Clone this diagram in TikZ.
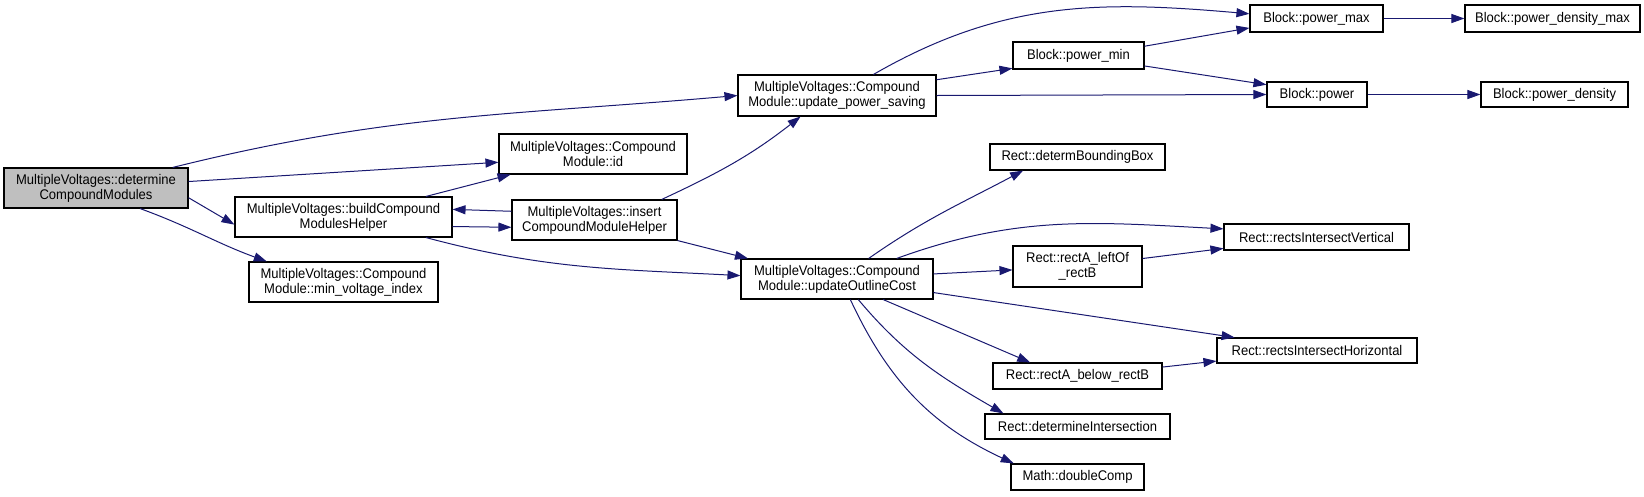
\documentclass[tikz,border=0pt]{standalone}
\usepackage{fontspec}
\setmainfont{Liberation Sans}[FakeStretch=0.93]
\usetikzlibrary{arrows.meta}
\definecolor{callblue}{HTML}{191970}

\begin{document}
\begin{tikzpicture}[x=1pt, y=1pt,
    fn/.style={draw, line width=1.1pt, inner sep=0pt, align=center,
        font=\fontsize{14}{15}\selectfont},
    call/.style={draw=callblue, line width=1pt,
        -{Triangle[length=13pt, width=9pt, fill=callblue]}}]
    \useasboundingbox (0,0) rectangle (1644,-496);

    % callers
    \node[fn, fill=black!25, minimum width=184pt, minimum height=40pt] (det) at (96,-188) {MultipleVoltages::determine\\CompoundModules};
    \node[fn, minimum width=188pt, minimum height=40pt] (id) at (593,-154) {MultipleVoltages::Compound\\Module::id};
    \node[fn, minimum width=217pt, minimum height=40pt] (build) at (343.5,-217) {MultipleVoltages::buildCompound\\ModulesHelper};
    \node[fn, minimum width=165pt, minimum height=40pt] (insert) at (594.5,-220) {MultipleVoltages::insert\\CompoundModuleHelper};
    \node[fn, minimum width=189pt, minimum height=40pt] (minv) at (343.5,-282) {MultipleVoltages::Compound\\Module::min\_voltage\_index};
    \node[fn, minimum width=198pt, minimum height=41pt] (ups) at (837,-95.5) {MultipleVoltages::Compound\\Module::update\_power\_saving};
    \node[fn, minimum width=192pt, minimum height=40pt] (uoc) at (837,-279) {MultipleVoltages::Compound\\Module::updateOutlineCost};

    % block
    \node[fn, minimum width=131pt, minimum height=27pt] (pmin) at (1078.5,-55.5) {Block::power\_min};
    \node[fn, minimum width=133pt, minimum height=27pt] (pmax) at (1316.5,-18.5) {Block::power\_max};
    \node[fn, minimum width=175pt, minimum height=27pt] (pdmax) at (1552.5,-18.5) {Block::power\_density\_max};
    \node[fn, minimum width=100pt, minimum height=25pt] (pow) at (1317,-94.5) {Block::power};
    \node[fn, minimum width=147pt, minimum height=25pt] (pd) at (1554.5,-94.5) {Block::power\_density};

    % rect
    \node[fn, minimum width=175pt, minimum height=26pt] (dbb) at (1077.5,-157) {Rect::determBoundingBox};
    \node[fn, minimum width=185pt, minimum height=26pt] (riv) at (1316.5,-237) {Rect::rectsIntersectVertical};
    \node[fn, minimum width=129pt, minimum height=41pt] (rlo) at (1077.5,-266.5) {Rect::rectA\_leftOf\\\_rectB};
    \node[fn, minimum width=200pt, minimum height=25pt] (rih) at (1317,-350.5) {Rect::rectsIntersectHorizontal};
    \node[fn, minimum width=169pt, minimum height=26pt] (rab) at (1077.5,-376) {Rect::rectA\_below\_rectB};
    \node[fn, minimum width=185pt, minimum height=25pt] (dint) at (1077.5,-426.5) {Rect::determineIntersection};
    \node[fn, minimum width=133pt, minimum height=26pt] (dc) at (1077.5,-477) {Math::doubleComp};

    \draw[call] (det.15) to[out=14, in=185] (ups.west);
    \draw[call] (det.4) -- (id.185);
    \draw[call] (det.-6) -- (build.184);
    \draw[call] (det.-25) to[out=-20, in=160] (minv.165);
    \draw[call] (build.14) -- (id.194);
    \draw[call] (insert.174) -- (build.4);
    \draw[call] (build.-5) -- (insert.185);
    \draw[call] (build.-14) to[out=-15, in=177] (uoc.178);
    \draw[call] (insert.17) to[out=25, in=218] (ups.210);
    \draw[call] (insert.south east) -- (uoc.167);

    \draw[call] (ups.30) to[out=30, in=175] (pmax.176);
    \draw[call] (ups.9.5) -- (pmin.191);
    \draw[call] (ups.east) -- (pow.west);
    \draw[call] (pmin.8) -- (pmax.188);
    \draw[call] (pmin.-9) -- (pow.169);
    \draw[call] (pmax) -- (pdmax);
    \draw[call] (pow) -- (pd);

    \draw[call] (uoc.33) to[out=35, in=208] (dbb.194);
    \draw[call] (uoc.19) to[out=20, in=177] (riv.175);
    \draw[call] (uoc.3) -- (rlo.183);
    \draw[call] (uoc.-8) -- (rih.171);
    \draw[call] (uoc.-24) -- (rab.164);
    \draw[call] (uoc.-44) to[out=-50, in=150] (dint.170);
    \draw[call] (uoc.-57) to[out=-65, in=155] (dc.168);
    \draw[call] (rlo.7) -- (riv.187);
    \draw[call] (rab.6) -- (rih.186);
\end{tikzpicture}
\end{document}
